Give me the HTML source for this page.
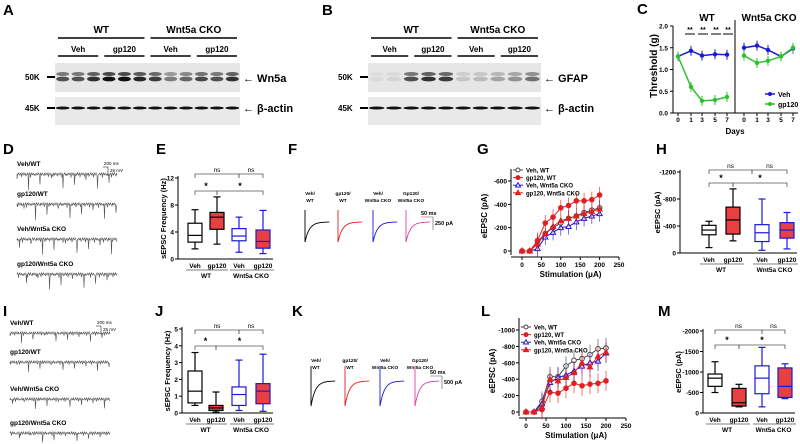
<!DOCTYPE html>
<html><head><meta charset="utf-8"><style>
body{margin:0;background:#fff}
svg{display:block;font-family:"Liberation Sans",Arial,sans-serif}
.lbl{font-weight:bold;font-size:15px}
</style></head><body>
<svg id="fig" width="800" height="444" viewBox="0 0 800 444">
<g>
<text class="lbl" x="3" y="15">A</text><text class="lbl" x="322" y="15">B</text><text class="lbl" x="637" y="14">C</text>
<text class="lbl" x="3" y="154">D</text><text class="lbl" x="156" y="154">E</text><text class="lbl" x="288" y="154">F</text>
<text class="lbl" x="477" y="154">G</text><text class="lbl" x="656" y="154">H</text>
<text class="lbl" x="3" y="316">I</text><text class="lbl" x="155" y="316">J</text><text class="lbl" x="292" y="316">K</text>
<text class="lbl" x="481" y="316">L</text><text class="lbl" x="658" y="316">M</text>
</g>
</svg>
<script>
// ---- data ----
const cDays=[0,1,3,5,7];
const cWtVeh=[1.3,1.43,1.32,1.35,1.34];
const cWtGp=[1.3,0.6,0.28,0.3,0.37];
const cKoVeh=[1.5,1.55,1.45,1.3,1.48];
const cKoGp=[1.32,1.15,1.2,1.3,1.5];
const cTicks=[0,0.5,1.0,1.5,2.0];
const eBoxes=[[1.5,2.5,3.5,5.3,7.3],[2.2,4.4,6.2,6.9,9.2],[1,2.7,3.4,4.5,6.2],[0.8,1.6,2.6,4.3,7.2]];
const eTicks=[0,4,8,12];
const stim=[0,20,40,60,80,100,120,140,160,180,200];
const gVehWt=[0,0,-80,-150,-200,-240,-280,-300,-330,-350,-370];
const gGpWt=[0,0,-90,-240,-290,-370,-390,-430,-430,-440,-480];
const gVehKo=[0,0,-20,-120,-160,-200,-210,-250,-280,-300,-320];
const gGpKo=[0,0,-60,-150,-210,-260,-280,-300,-320,-340,-360];
const gTicks=[0,-200,-400,-600];
const hBoxes=[[-80,-270,-340,-410,-470],[-180,-280,-490,-680,-950],[-40,-170,-300,-420,-800],[-60,-220,-340,-450,-600]];
const hTicks=[0,-400,-800,-1200];
const jBoxes=[[0.45,0.6,1.3,2.5,3.6],[0.05,0.15,0.3,0.45,1.25],[0.15,0.45,1.1,1.55,3.15],[0.1,0.55,1.3,1.75,3.5]];
const jTicks=[0,1,2,3,4,5];
const lVehWt=[0,0,-130,-430,-430,-560,-630,-650,-700,-770,-780];
const lGpWt=[0,0,-30,-240,-230,-290,-350,-320,-340,-350,-380];
const lVehKo=[0,0,-100,-360,-420,-450,-500,-560,-600,-620,-720];
const lGpKo=[0,0,-60,-400,-380,-420,-480,-600,-550,-680,-730];
const lTicks=[0,-200,-400,-600,-800,-1000];
const mBoxes=[[-500,-650,-850,-950,-1250],[-150,-170,-250,-600,-700],[-150,-470,-850,-1150,-1600],[-350,-380,-650,-1100,-1200]];
const mTicks=[0,-500,-1000,-1500,-2000];
const stimTicks=[0,50,100,150,200,250];

const NS="http://www.w3.org/2000/svg";
const svg=document.getElementById('fig');
function mk(tag,attrs,parent){const e=document.createElementNS(NS,tag);for(const k in attrs)e.setAttribute(k,attrs[k]);(parent||svg).appendChild(e);return e;}
function txt(s,x,y,size,parent,extra){const e=mk('text',Object.assign({x:x,y:y,'font-size':size,'font-weight':'bold'},extra||{}),parent);e.textContent=s;return e;}
function grp(name){const g=mk('g',{});return g;}

// ---- western blots ----
function blot(name,x0,w,lanes,upper,bandName){
  const g=grp(name);
  const bg1=mk('rect',{x:x0,y:63,width:w,height:29,fill:'#e6e6e6'},g);
  
  const bg2=mk('rect',{x:x0,y:97,width:w,height:28,fill:'#e9e9e9'},g);
  
  const lw=w/lanes;
  for(let i=0;i<lanes;i++){
    const cx=x0+lw*(i+0.5);const s=upper[i];
    if(s>0){mk('ellipse',{cx:cx,cy:74,rx:lw*0.42,ry:2,fill:'#222','fill-opacity':s*0.8},g);
      mk('ellipse',{cx:cx,cy:79,rx:lw*0.42,ry:2.4,fill:'#111','fill-opacity':s},g);}
    mk('ellipse',{cx:cx,cy:108,rx:lw*0.45,ry:1.5,fill:'#111'},g);
  }
  txt('50K',x0-30,80,8,g);mk('line',{x1:x0-8,y1:77,x2:x0,y2:77,stroke:'#000','stroke-width':2},g);
  txt('45K',x0-30,111,8,g);mk('line',{x1:x0-8,y1:108,x2:x0,y2:108,stroke:'#000','stroke-width':2},g);
  txt('← '+bandName,x0+w+3,82,11,g);txt('← β-actin',x0+w+3,112,11,g);
  const half=w/2;
  txt('WT',x0+half*0.5,33,10,g,{'text-anchor':'middle'});
  txt('Wnt5a CKO',x0+half*1.5,33,10,g,{'text-anchor':'middle'});
  mk('line',{x1:x0+3,y1:38,x2:x0+half-3,y2:38,stroke:'#000','stroke-width':1.5},g);
  mk('line',{x1:x0+half+3,y1:38,x2:x0+w-3,y2:38,stroke:'#000','stroke-width':1.5},g);
  const q=w/4;const subs=['Veh','gp120','Veh','gp120'];
  for(let i=0;i<4;i++){txt(subs[i],x0+q*(i+0.5),52,8,g,{'text-anchor':'middle'});
    mk('line',{x1:x0+q*i+3,y1:56,x2:x0+q*(i+1)-3,y2:56,stroke:'#000','stroke-width':1.5},g);}
}
blot('blot-a',55,185,12,[0.7,0.7,0.85,1,1,0.9,0.8,0.5,0.6,0.75,0.7,0.85],'Wn5a');
blot('blot-b',368,173,10,[0.05,0.08,0.7,0.85,0.8,0.15,0.2,0.3,0.4,0.55],'GFAP');

// ---- panel C ----
(function(){
  const g=grp('chart-c');
  const y=v=>113-v*43.5;
  const xW={0:678,1:691,3:702,5:715,7:727},xK={0:744,1:757,3:768,5:781,7:793};
  mk('line',{x1:673,y1:26,x2:673,y2:113,stroke:'#000'},g);
  mk('line',{x1:673,y1:113,x2:798,y2:113,stroke:'#000'},g);
  mk('line',{x1:735,y1:20,x2:735,y2:113,stroke:'#000'},g);
  cTicks.forEach(t=>{mk('line',{x1:670,y1:y(t),x2:673,y2:y(t),stroke:'#000'},g);txt(t.toFixed(1),668,y(t)+2.5,6.5,g,{'text-anchor':'end'});});
  cDays.forEach(d=>{[xW,xK].forEach(m=>{mk('line',{x1:m[d],y1:113,x2:m[d],y2:116,stroke:'#000'},g);txt(String(d),m[d],122,6.5,g,{'text-anchor':'middle'});});});
  txt('WT',707,21,10,g,{'text-anchor':'middle'});txt('Wnt5a CKO',769,21,10,g,{'text-anchor':'middle'});
  txt('Days',735,134,8,g,{'text-anchor':'middle'});
  txt('Threshold (g)',0,0,10,g,{'text-anchor':'middle',transform:'translate(657,66) rotate(-90)'});
  [690,703,716,728].forEach(x=>{txt('**',x,32,7,g,{'text-anchor':'middle'});mk('line',{x1:x-5,y1:34,x2:x+5,y2:34,stroke:'#000'},g);});
  function series(vals,m,col,nm){
    const pts=cDays.map((d,i)=>m[d]+','+y(vals[i])).join(' ');
    const p=mk('polyline',{points:pts,fill:'none',stroke:col,'stroke-width':1.5},g);
    
    cDays.forEach((d,i)=>{mk('line',{x1:m[d],y1:y(vals[i])-5,x2:m[d],y2:y(vals[i])+5,stroke:col},g);
      const c=mk('circle',{cx:m[d],cy:y(vals[i]),r:2.2,fill:col},g);
      });
  }
  series(cWtVeh,xW,'#1a1ad6','wt-veh-line');series(cWtGp,xW,'#2ec02e','wt-gp120-line');
  series(cKoVeh,xK,'#1a1ad6','cko-veh-line');series(cKoGp,xK,'#2ec02e','cko-gp120-line');
  const lg=grp('legend-c');
  mk('line',{x1:765,y1:94,x2:775,y2:94,stroke:'#1a1ad6','stroke-width':1.5},lg);mk('circle',{cx:770,cy:94,r:2,fill:'#1a1ad6'},lg);txt('Veh',778,97,7,lg);
  mk('line',{x1:765,y1:104,x2:775,y2:104,stroke:'#2ec02e','stroke-width':1.5},lg);mk('circle',{cx:770,cy:104,r:2,fill:'#2ec02e'},lg);txt('gp120',778,107,7,lg);
})();

// ---- traces (D, I) ----
function traces(name,x0,labels,ys,amp){
  const g=grp(name);
  labels.forEach((l,i)=>{txt(l,x0,ys[i],6.5,g);
    let d='M'+x0+','+(ys[i]+8);
    for(let k=0;k<=200;k++){const x=x0+k*0.5;const spike=((k*37+i*11)%23===0)?amp*(1+((k+i)%3)):((k*13+i*5)%9===0?amp*0.5:0);
      const yy=ys[i]+8+Math.sin(k*1.7+i)*1.2+spike;d+=' L'+x.toFixed(1)+','+yy.toFixed(1);}
    const p=mk('path',{d:d,fill:'none',stroke:'#555','stroke-width':0.6},g);
    });
  txt('200 ms',x0+87,ys[0]-1,4.5,g,{'font-weight':'normal'});txt('25 mV',x0+93,ys[0]+6,4.5,g,{'font-weight':'normal'});
  mk('polyline',{points:(x0+86)+','+(ys[0]+1)+' '+(x0+91)+','+(ys[0]+1)+' '+(x0+91)+','+(ys[0]+8),fill:'none',stroke:'#000','stroke-width':0.5},g);
}
traces('traces-d',17,['Veh/WT','gp120/WT','Veh/Wnt5a CKO','gp120/Wnt5a CKO'],[166,196,231,266],5);
traces('traces-i',10,['Veh/WT','gp120/WT','Veh/Wnt5a CKO','gp120/Wnt5a CKO'],[325,354,391,425],3);

// ---- evoked traces (F, K) ----
function evoked(name,xs,ylab,ybase,depth,scaleLbl){
  const g=grp(name);const cols=['#000','#e02020','#1a1ad6','#e040a0'];
  const labs=[['Veh/','WT'],['gp120/','WT'],['Veh/','Wnt5a CKO'],['Gp120/','Wnt5a CKO']];
  xs.forEach((x,i)=>{txt(labs[i][0],x+5,ylab,4.8,g,{'text-anchor':'middle'});txt(labs[i][1],x+5,ylab+7,4.8,g,{'text-anchor':'middle'});
    let d='M'+x+','+(ybase-depth*0.6)+' L'+x+','+(ybase+depth);
    for(let k=0;k<=22;k++){d+=' L'+(x+k*1.1).toFixed(1)+','+(ybase+depth*Math.exp(-k/4)).toFixed(1);}
    const p=mk('path',{d:d,fill:'none',stroke:cols[i],'stroke-width':0.9},g);
    });
  const sx=xs[3]+27;
  mk('polyline',{points:(sx-12)+','+(ybase-5)+' '+sx+','+(ybase-5)+' '+sx+','+(ybase+8),fill:'none',stroke:'#555','stroke-width':0.6},g);
  txt('50 ms',sx-12,ybase-7,5.5,g);txt(scaleLbl,sx+2,ybase+3,5.5,g);
}
evoked('traces-f',[305,338,373,406],195,222,20,'250 pA');
evoked('traces-k',[311,345,380,415],362,381,25,'500 pA');

// ---- box plots ----
function boxplot(name,cfg){
  const g=grp(name);const y=v=>cfg.y0+(v/cfg.vmax)*(cfg.ytop-cfg.y0);
  mk('line',{x1:cfg.ax,y1:cfg.ytop-2,x2:cfg.ax,y2:cfg.y0,stroke:'#000'},g);
  mk('line',{x1:cfg.ax,y1:cfg.y0,x2:cfg.xs[3]+10,y2:cfg.y0,stroke:'#000'},g);
  cfg.ticks.forEach(t=>{mk('line',{x1:cfg.ax-3,y1:y(t),x2:cfg.ax,y2:y(t),stroke:'#000'},g);txt(String(t),cfg.ax-4,y(t)+2.5,6.5,g,{'text-anchor':'end'});});
  txt(cfg.ylab,0,0,7.5,g,{'text-anchor':'middle',transform:'translate('+(cfg.ax-cfg.yoff)+','+((cfg.ytop+cfg.y0)/2)+') rotate(-90)'});
  const cols=['#000','#000','#1a1ad6','#1a1ad6'],fills=['#fff','#e84040','#fff','#e84040'];
  cfg.data.forEach((b,i)=>{const x=cfg.xs[i],w=cfg.bw;
    mk('line',{x1:x,y1:y(b[0]),x2:x,y2:y(b[4]),stroke:cols[i],'stroke-width':1.2},g);
    mk('line',{x1:x-w/4,y1:y(b[0]),x2:x+w/4,y2:y(b[0]),stroke:cols[i],'stroke-width':1.2},g);
    mk('line',{x1:x-w/4,y1:y(b[4]),x2:x+w/4,y2:y(b[4]),stroke:cols[i],'stroke-width':1.2},g);
    const r=mk('rect',{x:x-w/2,y:Math.min(y(b[1]),y(b[3])),width:w,height:Math.abs(y(b[3])-y(b[1])),fill:fills[i],stroke:cols[i],'stroke-width':1.2},g);
    
    mk('line',{x1:x-w/2,y1:y(b[2]),x2:x+w/2,y2:y(b[2]),stroke:cols[i],'stroke-width':1.2},g);
    txt(['Veh','gp120','Veh','gp120'][i],x,cfg.y0+9,6.5,g,{'text-anchor':'middle'});});
  const ly=cfg.y0+11;
  mk('line',{x1:cfg.xs[0]-9,y1:ly,x2:cfg.xs[1]+11,y2:ly,stroke:'#000','stroke-width':0.6},g);
  mk('line',{x1:cfg.xs[2]-9,y1:ly,x2:cfg.xs[3]+11,y2:ly,stroke:'#000','stroke-width':0.6},g);
  txt('WT',(cfg.xs[0]+cfg.xs[1])/2,ly+8,6.5,g,{'text-anchor':'middle'});
  txt('Wnt5a CKO',(cfg.xs[2]+cfg.xs[3])/2,ly+8,6.5,g,{'text-anchor':'middle'});
  cfg.sig.forEach(s=>{const [a,b,yy,t]=s;mk('polyline',{points:a+','+(yy+4)+' '+a+','+yy+' '+b+','+yy+' '+b+','+(yy+4),fill:'none',stroke:'#555','stroke-width':0.8},g);
    txt(t,(a+b)/2,yy-2,t==='*'?9:6.5,g,{'text-anchor':'middle','font-weight':t==='*'?'bold':'normal'});});
}
boxplot('chart-e',{ax:178,y0:259,ytop:178,vmax:12,ticks:eTicks,xs:[195,217,239,263],bw:14,data:eBoxes,ylab:'sEPSC Frequency (Hz)',yoff:12,
  sig:[[195,239,174,'ns'],[239,263,174,'ns'],[195,217,191,'*'],[217,263,191,'*']]});
boxplot('chart-h',{ax:680,y0:253,ytop:172,vmax:-1200,ticks:hTicks,xs:[709,733,762,787],bw:14,data:hBoxes,ylab:'eEPSC (pA)',yoff:20,
  sig:[[709,752,170,'ns'],[752,787,170,'ns'],[709,733,183,'*'],[733,787,183,'*']]});
boxplot('chart-j',{ax:182,y0:413,ytop:329,vmax:5,ticks:jTicks,xs:[195,216,239,263],bw:14,data:jBoxes,ylab:'sEPSC Frequency (Hz)',yoff:12,
  sig:[[195,239,330,'ns'],[239,263,330,'ns'],[195,216,346,'*'],[216,263,346,'*']]});
boxplot('chart-m',{ax:703,y0:413,ytop:331,vmax:-2000,ticks:mTicks,xs:[715,739,762,785],bw:14,data:mBoxes,ylab:'eEPSC (pA)',yoff:22,
  sig:[[715,762,330,'ns'],[762,785,330,'ns'],[715,739,345,'*'],[739,785,345,'*']]});

// ---- line charts G, L ----
function linechart(name,cfg){
  const g=grp(name);
  const x=v=>cfg.x0+v*(cfg.x1-cfg.x0)/250,y=v=>cfg.y0+(v/cfg.vmax)*(cfg.ytop-cfg.y0);
  mk('line',{x1:cfg.ax,y1:cfg.ytop-12,x2:cfg.ax,y2:cfg.y0+4,stroke:'#000'},g);
  mk('line',{x1:cfg.ax,y1:cfg.y0+6,x2:cfg.x1,y2:cfg.y0+6,stroke:'#000'},g);
  cfg.ticks.forEach(t=>{mk('line',{x1:cfg.ax-3,y1:y(t),x2:cfg.ax,y2:y(t),stroke:'#000'},g);txt(String(t),cfg.ax-4,y(t)+2.5,6.5,g,{'text-anchor':'end'});});
  stimTicks.forEach(t=>{mk('line',{x1:x(t),y1:cfg.y0+6,x2:x(t),y2:cfg.y0+9,stroke:'#000'},g);txt(String(t),x(t),cfg.y0+16,6.5,g,{'text-anchor':'middle'});});
  txt('Stimulation (μA)',(cfg.x0+cfg.x1)/2,cfg.y0+26,8,g,{'text-anchor':'middle'});
  txt('eEPSC (pA)',0,0,8,g,{'text-anchor':'middle',transform:'translate('+(cfg.ax-24)+','+((cfg.ytop+cfg.y0)/2)+') rotate(-90)'});
  const st=[['#444','circle',false,'Veh, WT'],['#e02020','circle',true,'gp120, WT'],['#1a1ad6','tri',false,'Veh, Wnt5a CKO'],['#e02020','tri',true,'gp120, Wnt5a CKO']];
  cfg.series.forEach((vals,si)=>{const [col,shape,filled]=st[si];
    const p=mk('polyline',{points:stim.map((s,i)=>x(s)+','+y(vals[i])).join(' '),fill:'none',stroke:col,'stroke-width':1},g);
    
    stim.forEach((s,i)=>{const px=x(s),py=y(vals[i]);
      if(i>1)mk('line',{x1:px,y1:py-cfg.err,x2:px,y2:py+cfg.err,stroke:col,'stroke-width':0.6},g);
      if(shape==='circle')mk('circle',{cx:px,cy:py,r:2.3,fill:filled?col:'#fff',stroke:col},g);
      else mk('polygon',{points:px+','+(py-2.8)+' '+(px-2.6)+','+(py+2)+' '+(px+2.6)+','+(py+2),fill:filled?col:'#fff',stroke:col},g);});
  });
  const lg=grp(name+'-legend');
  st.forEach((s,i)=>{const ly=cfg.ly+i*7.6;mk('line',{x1:cfg.lx,y1:ly,x2:cfg.lx+10,y2:ly,stroke:s[0]},lg);
    if(s[1]==='circle')mk('circle',{cx:cfg.lx+5,cy:ly,r:2,fill:s[2]?s[0]:'#fff',stroke:s[0]},lg);
    else mk('polygon',{points:(cfg.lx+5)+','+(ly-2.5)+' '+(cfg.lx+2.5)+','+(ly+1.8)+' '+(cfg.lx+7.5)+','+(ly+1.8),fill:s[2]?s[0]:'#fff',stroke:s[0]},lg);
    txt(s[3],cfg.lx+13,ly+2.5,6,lg);});
}
linechart('chart-g',{ax:511,x0:522,x1:619,y0:251,ytop:181,vmax:-600,ticks:gTicks,series:[gVehWt,gGpWt,gVehKo,gGpKo],err:8,lx:513,ly:170});
linechart('chart-l',{ax:519,x0:526,x1:626,y0:412,ytop:330,vmax:-1000,ticks:lTicks,series:[lVehWt,lGpWt,lVehKo,lGpKo],err:10,lx:521,ly:327});
</script>
</body></html>
